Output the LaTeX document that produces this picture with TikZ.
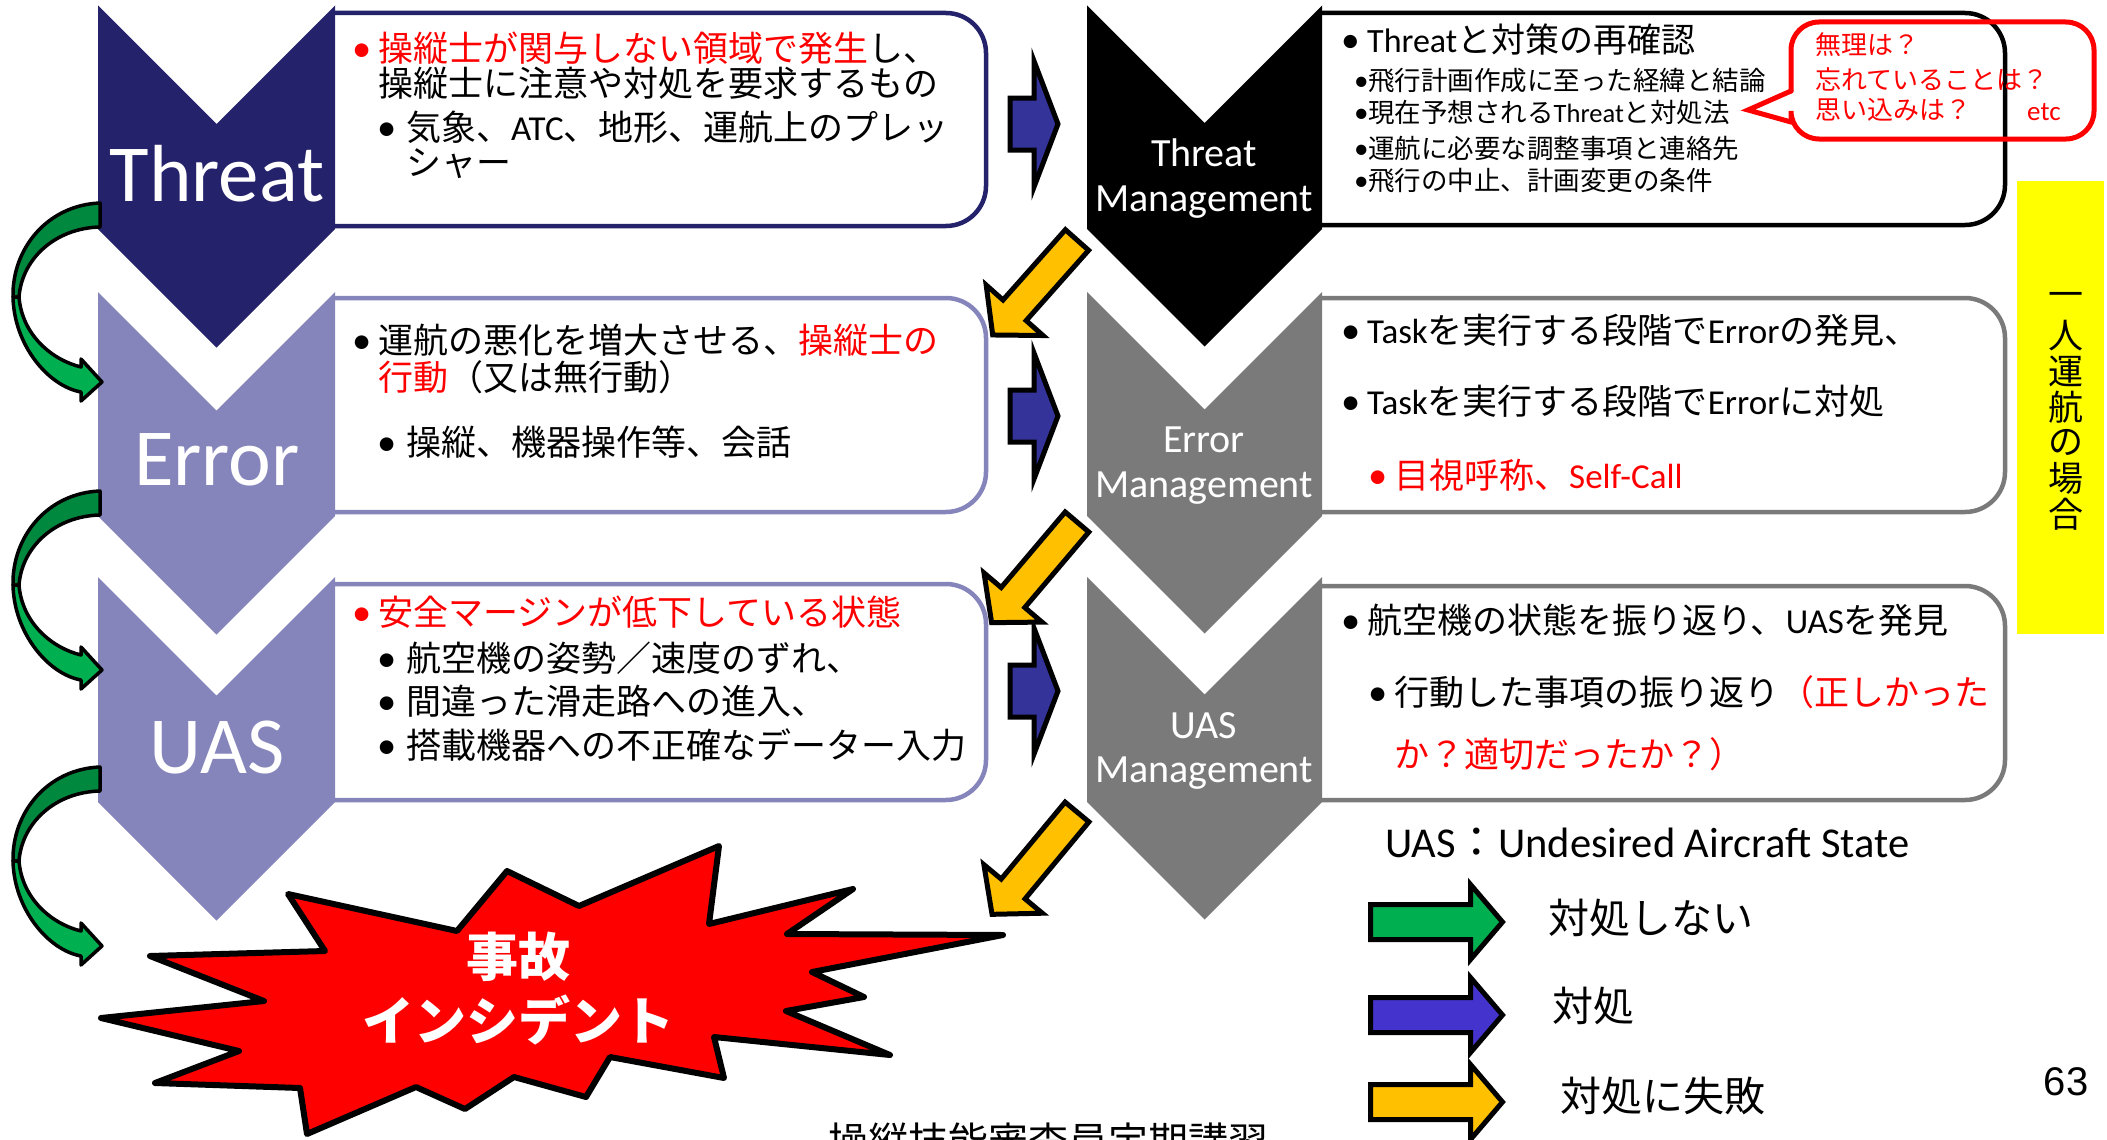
\documentclass[tikz,border=0pt]{standalone}
\usepackage{fontspec}
\setmainfont{Carlito}
\newfontfamily\jp{Noto Sans CJK JP}
\newfontfamily\carl{Carlito}
\newfontfamily\arialf{Liberation Sans}
\definecolor{navy}{RGB}{36,34,106}
\definecolor{lav}{RGB}{133,133,187}
\definecolor{mgray}{RGB}{122,122,122}
\definecolor{barrowc}{RGB}{51,51,153}
\definecolor{lblue}{RGB}{68,51,204}
\definecolor{gold}{RGB}{255,192,0}
\definecolor{grn}{RGB}{0,176,80}
\definecolor{dgrn}{RGB}{0,137,62}
\definecolor{yel}{RGB}{255,255,0}
\newcommand{\fs}[1]{\fontsize{#1}{#1}\selectfont}
\newcommand{\cl}[1]{{\carl #1}}
\newcommand{\bul}[2]{\makebox[#2pt][l]{\textcolor{#1}{\carl\scalebox{1.1}{•}}}}
% chevron: L, R, top, bottom, colour
\newcommand{\chev}[5]{\fill[#5] (#1,#3) -- ({(#1+#2)/2},{#3+(#2-#1)/2}) -- (#2,#3) -- (#2,#4) -- ({(#1+#2)/2},{#4+(#2-#1)/2}) -- (#1,#4) -- cycle;}
% box: left, right, top, bottom, colour
\newcommand{\cbox}[5]{\filldraw[fill=white, draw=#5, line width=4.5, rounded corners=40] (#1,#3) -- (#2,#3) -- (#2,#4) -- (#1,#4);}
% block arrow: tail, angle, length, shaft half, head half, head length, colour
\newcommand{\barrow}[7]{\begin{scope}[shift={#1}, rotate=#2]
\filldraw[fill=#7, draw=black, line width=5, line join=miter] (0,-#4) -- ({#3-#6},-#4) -- ({#3-#6},-#5) -- (#3,0) -- ({#3-#6},#5) -- ({#3-#6},#4) -- (0,#4) -- cycle;
\end{scope}}
\newcommand{\greenarrow}[1]{\begin{scope}[shift={(0,#1)}]
\filldraw[fill=dgrn, draw=black, line width=3.5, line join=round] (100,203) .. controls (48,205) and (12,248) .. (13,297) -- (19,297) .. controls (22,258) and (56,228) .. (100,227) -- cycle;
\filldraw[fill=grn, draw=black, line width=3.5, line join=round] (13,297) .. controls (14,345) and (48,386) .. (81,392) -- (81,401) -- (102,382) -- (81,359) -- (81,367) .. controls (52,360) and (22,335) .. (19,297) -- cycle;
\end{scope}}
\tikzset{
 txt/.style={anchor=west, inner sep=0pt, font=\jp\fs{35}},
 sub/.style={txt, font=\jp\fs{26.5}},
 big/.style={anchor=base, inner sep=0pt, text=white, font=\carl\fs{81}},
 mlab/.style={anchor=base, inner sep=0pt, text=white, font=\carl\fs{40}},
 bub/.style={txt, text=red, font=\jp\fs{26}},
 leg/.style={txt, font=\jp\fs{41}},
}
\begin{document}
\begin{tikzpicture}[x=1pt,y=-1pt]
\useasboundingbox (0,0) rectangle (2107,1140);
\clip (0,0) rectangle (2107,1140);
\fill[white] (0,0) rectangle (2107,1140);

% boxes
\cbox{333}{986}{13}{226}{navy}
\cbox{333}{986}{298}{512}{lav}
\cbox{333}{986}{584}{800}{lav}
\cbox{1320}{2005}{13}{225}{black}
\cbox{1320}{2005}{298}{512}{mgray}
\cbox{1320}{2005}{586}{800}{mgray}

% chevrons
\chev{98}{335}{5.5}{229}{navy}
\chev{98}{335}{292}{516}{lav}
\chev{98}{335}{577}{802}{lav}
\chev{1087}{1322}{5.5}{229}{black}
\chev{1087}{1322}{292}{516}{mgray}
\chev{1087}{1322}{577}{802}{mgray}

% chevron labels
\node[big] (cT) at (217,201) {Threat};
\node[big] (cE) at (217,485) {Error};
\node[big] (cU) at (217,773) {UAS};
\node[mlab] (cTM1) at (1204,166.5) {Threat};
\node[mlab] (cTM2) at (1204,211) {Management};
\node[mlab] (cEM1) at (1204,452) {Error};
\node[mlab] (cEM2) at (1204,497) {Management};
\node[mlab] (cUM1) at (1204,738) {UAS};
\node[mlab] (cUM2) at (1204,782) {Management};

% blue arrows
\barrow{(1010,124)}{0}{48}{26}{63}{24}{barrowc}
\barrow{(1010,416)}{0}{48}{26}{63}{24}{barrowc}
\barrow{(1010,691)}{0}{48}{26}{63}{24}{barrowc}

% yellow arrows
\barrow{(1077,240)}{228.4}{127}{15.5}{38}{33}{gold}
\barrow{(1077,522)}{229.7}{132}{15.5}{38}{33}{gold}
\barrow{(1077,812)}{230.3}{133}{15.5}{38}{33}{gold}

% green curved arrows
\greenarrow{0}
\greenarrow{288}
\greenarrow{564}

% starburst
\filldraw[fill=red, draw=black, line width=6, line join=round] (288,894) -- (457,931) -- (507,871) -- (579,906) -- (719,846) -- (709,924) -- (853,889) -- (787,934) -- (1003,935) -- (812,972) -- (864,997) -- (786,1011) -- (890,1055) -- (714,1037) -- (724,1078) -- (610,1057) -- (586,1097) -- (514,1077) -- (465,1109) -- (416,1087) -- (307,1134) -- (300,1088) -- (155,1083) -- (239,1051) -- (101,1018) -- (264,1001) -- (150,956) -- (325,951) -- cycle;
\node[inner sep=0pt, text=white, font=\jp\bfseries\fs{52}] (acc1) at (518,957) {事故};
\node[inner sep=0pt, text=white, font=\jp\bfseries\fs{52}] (acc2) at (518,1020) {インシデント};

% Threat box text
\node[txt] (t1) at (352,48.5) {\bul{red}{26}\textcolor{red}{操縦士が関与しない領域で発生}し、};
\node[txt] (t2) at (378,83.5) {操縦士に注意や対処を要求するもの};
\node[txt] (t3) at (377,127.5) {\bul{black}{29}気象、\cl{ATC}、地形、運航上のプレッ};
\node[txt] (t4) at (406,163.5) {シャー};
% Error box text
\node[txt] (e1) at (352,340.5) {\bul{black}{26}運航の悪化を増大させる、\textcolor{red}{操縦士の}};
\node[txt] (e2) at (378,377) {\textcolor{red}{行動}（又は無行動）};
\node[txt] (e3) at (377,442) {\bul{black}{29}操縦、機器操作等、会話};
% UAS box text
\node[txt] (u1) at (352,612) {\bul{red}{26}\textcolor{red}{安全マージンが低下している状態}};
\node[txt] (u2) at (377,658) {\bul{black}{29}航空機の姿勢／速度のずれ、};
\node[txt] (u3) at (377,701) {\bul{black}{29}間違った滑走路への進入、};
\node[txt] (u4) at (377,745) {\bul{black}{29}搭載機器への不正確なデーター入力};

% Threat management text
\node[txt, font=\jp\fs{34}] (m1) at (1341,40) {\bul{black}{26}\cl{Threat}と対策の再確認};
\node[sub] (m2) at (1354,81) {\bul{black}{14}飛行計画作成に至った経緯と結論};
\node[sub] (m3) at (1354,113) {\bul{black}{14}現在予想される\cl{Threat}と対処法};
\node[sub] (m4) at (1354,148) {\bul{black}{14}運航に必要な調整事項と連絡先};
\node[sub] (m5) at (1354,181) {\bul{black}{14}飛行の中止、計画変更の条件};
% Error management text
\node[txt] (n1) at (1341,330) {\bul{black}{26}\cl{Task}を実行する段階で\cl{Error}の発見、};
\node[txt] (n2) at (1341,401) {\bul{black}{26}\cl{Task}を実行する段階で\cl{Error}に対処};
\node[txt] (n3) at (1368,475) {\bul{red}{26}\textcolor{red}{目視呼称、\cl{Self-Call}}};
% UAS management text
\node[txt] (p1) at (1341,620) {\bul{black}{26}航空機の状態を振り返り、\cl{UAS}を発見};
\node[txt] (p2) at (1368,692) {\bul{black}{26}行動した事項の振り返り\textcolor{red}{（正しかった}};
\node[txt] (p3) at (1394,754) {\textcolor{red}{か？適切だったか？）}};

% speech bubble
\draw[red, line width=5, rounded corners=28, line cap=round] (1791,91) -- (1791,22) -- (2094,22) -- (2094,139) -- (1791,139) -- (1791,122);
\draw[red, line width=5, line join=miter, line cap=round] (1791,122) -- (1748,110) -- (1791,91);
\node[bub] (b1) at (1815,45) {無理は？};
\node[bub] (b2) at (1815,79) {忘れていることは？};
\node[bub] (b3) at (1815,110) {思い込みは？};
\node[bub, font=\carl\fs{27}] (b4) at (2027,112) {etc};

% yellow side panel
\fill[yel] (2017,181) rectangle (2104,634);
\foreach \c [count=\i] in {一,人,運,航,の,場,合}
  \node[inner sep=0pt, font=\jp\fs{35}] (vt\i) at (2066,{300+(\i-1)*35.7}) {\c};

% legend
\node[txt, font=\carl\fs{42.5}] (uasdef) at (1385,843) {UAS{\jp ：}Undesired Aircraft State};
\barrow{(1370.5,922)}{0}{132}{17.5}{37.5}{32}{grn}
\barrow{(1370.5,1015)}{0}{132}{17.5}{37.5}{32}{lblue}
\barrow{(1370.5,1102)}{0}{132}{17.5}{37.5}{32}{gold}
\node[leg] (l1) at (1548,918) {対処しない};
\node[leg] (l2) at (1552,1006) {対処};
\node[leg] (l3) at (1560,1096) {対処に失敗};

\node[inner sep=0pt, font=\arialf\fs{40}] (pg) at (2066,1082) {63};
\node[anchor=base west, inner sep=0pt, font=\jp\fs{40}] (foot) at (828,1156) {操縦技能審査員定期講習};
\end{tikzpicture}
\end{document}
